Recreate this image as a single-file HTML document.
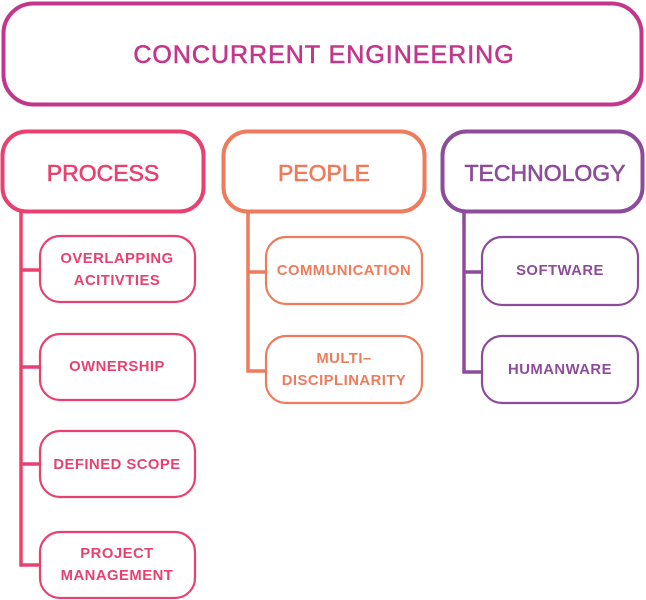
<!DOCTYPE html>
<html><head><meta charset="utf-8"><style>
html,body{margin:0;padding:0;background:#fff;}
svg{display:block;}
text{font-family:"Liberation Sans",sans-serif;text-anchor:middle;dominant-baseline:central;}
.h{font-size:23px;stroke-width:0.6px;}
.c{font-size:14.8px;font-weight:bold;letter-spacing:0.5px;}
</style></head><body>
<svg width="646" height="600" viewBox="0 0 646 600" xmlns="http://www.w3.org/2000/svg">
<rect x="3.5" y="3.5" width="638" height="101" rx="30" fill="#fff" stroke="#c2378b" stroke-width="4"/>
<text x="324" y="55" class="h" fill="#c2378b" stroke="#c2378b" style="font-size:25px;letter-spacing:1px">CONCURRENT ENGINEERING</text>

<g stroke="#e8416f" fill="none">
<path d="M21 212 V565 H41" stroke-width="3.5"/>
<path d="M21 270 H41 M21 367 H41 M21 464 H41" stroke-width="3.5"/>
<rect x="2.5" y="131.5" width="201" height="80" rx="24" stroke-width="4" fill="#fff"/>
<rect x="40" y="236" width="155" height="66" rx="20" stroke-width="2.2" fill="#fff"/>
<rect x="40" y="334" width="155" height="66" rx="20" stroke-width="2.2" fill="#fff"/>
<rect x="40" y="431" width="155" height="66" rx="20" stroke-width="2.2" fill="#fff"/>
<rect x="40" y="532" width="155" height="66" rx="20" stroke-width="2.2" fill="#fff"/>
</g>
<g fill="#e8416f">
<text x="103" y="173" class="h" stroke="#e8416f">PROCESS</text>
<text x="117" y="259" class="c">OVERLAPPING</text>
<text x="117" y="281" class="c">ACITIVTIES</text>
<text x="117" y="367" class="c">OWNERSHIP</text>
<text x="117" y="465" class="c">DEFINED SCOPE</text>
<text x="117" y="554" class="c">PROJECT</text>
<text x="117" y="576" class="c">MANAGEMENT</text>
</g>

<g stroke="#ee7b5b" fill="none">
<path d="M248 212 V371 H266 M248 272 H266" stroke-width="3.5"/>
<rect x="223.5" y="131.5" width="201" height="80" rx="24" stroke-width="4" fill="#fff"/>
<rect x="266" y="237" width="156" height="67" rx="20" stroke-width="2.2" fill="#fff"/>
<rect x="266" y="336" width="156" height="67" rx="20" stroke-width="2.2" fill="#fff"/>
</g>
<g fill="#ee7b5b">
<text x="324" y="173" class="h" stroke="#ee7b5b">PEOPLE</text>
<text x="344" y="271" class="c">COMMUNICATION</text>
<text x="344" y="359" class="c">MULTI–</text>
<text x="344" y="381" class="c">DISCIPLINARITY</text>
</g>

<g stroke="#8d4c9b" fill="none">
<path d="M464 212 V372 H482 M464 272 H482" stroke-width="3.5"/>
<rect x="442.5" y="131.5" width="200" height="80" rx="24" stroke-width="4" fill="#fff"/>
<rect x="482" y="237" width="156" height="68" rx="20" stroke-width="2.2" fill="#fff"/>
<rect x="482" y="336" width="156" height="67" rx="20" stroke-width="2.2" fill="#fff"/>
</g>
<g fill="#8d4c9b">
<text x="545" y="173" class="h" stroke="#8d4c9b">TECHNOLOGY</text>
<text x="560" y="271" class="c">SOFTWARE</text>
<text x="560" y="370" class="c">HUMANWARE</text>
</g>
</svg>
</body></html>
